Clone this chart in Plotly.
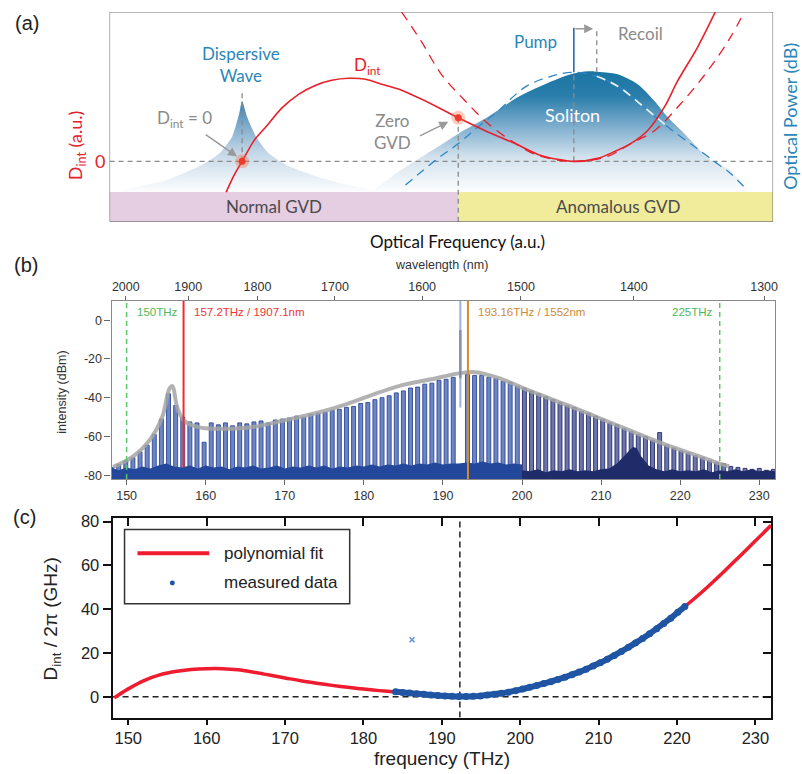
import plotly.graph_objects as go

W, H = 802, 774


def fx(px):
    return px / W


def fy(py):
    return 1 - py / H


# ---------------- Panel (a): schematic (arbitrary units) ----------------
a_dint_x = [17.57, 18.77, 19.97, 21.77, 23.57, 25.98, 28.53, 31.08, 33.48, 36.04, 38.59, 40.99,
            43.54, 48.5, 52.55, 56.61, 61.11, 65.02, 69.97, 73.57, 76.13, 78.53, 81.08, 83.63,
            85.59, 88.59, 91.29]
a_dint_y = [-3.1, -1.4, 0, 2.1, 3.5, 5.4, 6.8, 7.7, 8.2, 8.4, 8.3, 7.8,
            7.3, 5.8, 4.4, 3.1, 1.8, 0.6, 0, 0.3, 1.0, 1.8, 3.1, 5.5,
            8.1, 11.5, 15.1]
a_par_x = [44.0, 47.0, 50.0, 53.6, 57.06, 60.5, 64.56, 69.97, 75.08, 78.53, 82.13, 86.04, 90.09, 93.54, 95.65]
a_par_y = [15.1, 12.1, 8.8, 6.1, 3.8, 2.1, 0.6, 0, 0.5, 1.8, 3.1, 5.8, 9.1, 12.5, 15.1]
a_sech_x = [44.59, 49.1, 52.55, 55.56, 58.56, 62.61, 66.52, 69.97, 73.42, 76.58, 80.33, 84.08, 88.14, 91.14, 93.54, 95.8]
a_sech_y = [-2.4, 0.1, 1.8, 3.5, 5.1, 7.5, 8.6, 9.0, 8.6, 7.6, 5.6, 3.5, 1.5, 0, -1.2, -2.7]
a_sol_x = [39.34, 42.79, 45.5, 49.55, 52.55, 57.06, 61.56, 65.62, 69.52, 72.07, 74.32, 76.58, 79.58,
           82.13, 84.08, 86.64, 89.04, 90.84, 93.54, 96.1, 96.4]
a_sol_y = [-3.1, -1.4, -0.2, 1.5, 2.8, 4.5, 6.5, 7.8, 8.8, 9.1, 9.0, 8.8, 7.8,
           6.1, 4.5, 2.8, 1.1, 0, -0.9, -2.9, -3.1]
a_dw_x = [1.5, 3.45, 8.56, 13.51, 16.52, 18.47, 19.52, 19.97, 20.72, 22.07, 24.02, 27.03, 31.08, 36.04, 41.29]
a_dw_y = [-3.1, -2.7, -1.9, -0.5, 0.8, 2.5, 4.8, 6.1, 4.5, 2.5, 0.8, -0.5, -1.5, -2.4, -3.1]

A_XMIN, A_XMAX = 0, 100
A_YMIN, A_YMAX = -6.1, 15.1
band_top = -3.1
dw_x, dw_top = 19.97, 7.1
zgvd_x, zgvd_y = 52.55, 4.4
pump_x, pump_top, sol_peak = 69.97, 13.5, 9.0
recoil_x, recoil_top = 73.42, 13.2

# ---------------- Panel (b): spectrum ----------------
comb_freq = [148.1, 149.0, 149.9, 150.8, 151.7, 152.6, 153.5, 154.4, 155.3, 156.2, 157.1, 158.0, 158.9,
             159.8, 160.7, 161.6, 162.5, 163.4, 164.3, 165.2, 166.1, 167.0, 167.9, 168.8, 169.7, 170.6,
             171.5, 172.4, 173.3, 174.2, 175.1, 176.0, 176.9, 177.8, 178.7, 179.6, 180.5, 181.4, 182.3,
             183.2, 184.1, 185.0, 185.9, 186.8, 187.7, 188.6, 189.5, 190.4, 191.3, 193.1, 194.0, 194.9,
             195.8, 196.7, 197.6, 198.5, 199.4, 200.3, 201.2, 202.1, 203.0, 203.9, 204.8, 205.7, 206.6,
             207.5, 208.4, 209.3, 210.2, 211.1, 212.0, 212.9, 213.8, 214.7, 215.6, 216.5, 217.4, 218.3,
             219.2, 220.1, 221.0, 221.9, 222.8, 223.7, 224.6, 225.5, 226.4, 227.3, 228.2, 229.1, 230.0,
             230.9, 231.8]
comb_db = [-76, -74.5, -72.5, -71, -68, -64.5, -59, -51, -38, -44, -50, -52.5, -53,
           -63, -53, -54, -53, -54.5, -53, -53.5, -52.5, -52, -53, -51.5, -51, -50.5,
           -49.5, -50, -48.5, -48, -47.5, -46.5, -46, -45, -44.5, -43, -42.5, -41, -40,
           -39, -37.5, -36.5, -35, -34.5, -33, -32.5, -31, -30.5, -29.5, -28, -28.5, -28.5,
           -29.5, -30, -31.5, -32, -34, -35, -36.5, -38, -39.5, -41, -42.5, -44, -45,
           -47, -48, -49.5, -51, -53, -54, -56, -57.5, -59, -60, -62, -58, -64.5,
           -66, -67.5, -68.5, -70, -71, -72.5, -73.5, -74, -75.5, -76, -76.5, -77, -76.5,
           -77.5, -77]
floor_l_f = [148.1, 149, 150, 151, 152, 153, 154, 155, 156, 157, 158, 159, 160, 161, 162, 163, 164, 165,
             166, 167, 168, 169, 170, 171, 172, 173, 174, 175, 176, 177, 178, 179, 180, 181, 182, 183,
             184, 185, 186, 187, 188, 189, 190, 191, 192, 193, 194, 195, 196, 197, 198, 199, 200]
floor_l_db = [-76, -77.5, -76, -77, -75.5, -76.5, -75, -74, -75.5, -76, -75, -76.5, -75, -76, -75.5, -77,
              -75.5, -76, -75, -76.5, -76, -75, -76.5, -75.5, -76, -75, -76, -75, -76.5, -75.5, -76,
              -75, -75.5, -74.5, -75.5, -74.5, -75, -74, -75, -74, -74.5, -73.5, -74.5, -74, -74,
              -73.5, -74, -73, -74, -73.5, -74.5, -74, -74.5]
floor_r_f = [200, 201, 202, 203, 204, 205, 206, 207, 208, 209, 210, 211, 212, 213, 214, 214.5, 215, 216,
             217, 218, 219, 220, 221, 222, 223, 224, 225, 226, 227, 228, 229, 230, 231, 232]
floor_r_db = [-77.5, -78, -77, -78.5, -77.5, -78, -77, -78, -77.5, -78, -77, -76.5, -74, -70, -65.5, -66,
              -70, -75, -77, -78, -77, -78, -77.5, -78, -77, -78.5, -77.5, -78, -77, -78, -77, -78,
              -77.5, -78]
env_f = [148.3, 150.7, 152.9, 154.5, 155.4, 155.8, 156.4, 157.3, 159.2, 161.3, 165.5, 169.6, 175.9,
         184.4, 188.5, 192.2, 194.1, 197.0, 201.1, 205.4, 209.6, 213.7, 217.9, 222.1, 225.0, 226.2]
env_db = [-75.7, -70.7, -62, -50, -35.5, -34, -45, -52, -55.3, -56, -55.4, -52, -45.8,
          -34, -30.5, -27.3, -26.8, -29.8, -36.6, -43.3, -50.2, -57, -63.8, -69.8, -74, -75.5]
pump_f, pump_db, pump_spike_db = 192.2, 10, -5
dw_line_f, pump_ref_f = 157.2, 193.16
limit_f = [150, 225]
B_XMIN, B_XMAX, B_YMIN, B_YMAX = 148.1, 232.0, -82, 10
b_yticks = [0, -20, -40, -60, -80]
b_xticks = [150, 160, 170, 180, 190, 200, 210, 220, 230]
wl_ticks = [2000, 1900, 1800, 1700, 1600, 1500, 1400, 1300]
C_NM_THZ = 299792.458

# ---------------- Panel (c): integrated dispersion ----------------
fit_f = [148.2, 150, 152, 154, 156, 158, 160, 162, 164, 166, 168, 170, 172, 174, 176, 178, 180, 182,
         184, 186, 188, 190, 192, 194, 196, 198, 200, 202, 204, 206, 208, 210, 212, 214, 216, 218,
         220, 222, 224, 226, 228, 230, 232]
fit_g = [-0.5, 3.6, 7.4, 10.0, 11.5, 12.4, 12.8, 12.8, 12.3, 11.2, 9.9, 8.6, 7.3, 6.2, 5.2, 4.3, 3.5,
         2.8, 2.2, 1.6, 1.0, 0.5, 0.1, 0.2, 0.9, 1.9, 3.3, 5.0, 7.0, 9.3, 12.0, 15.2, 18.9, 23.0, 27.6,
         32.7, 38.3, 44.2, 50.5, 57.2, 64.2, 71.2, 78.3]
meas_f = [184.1, 185.0, 185.9, 186.8, 187.7, 188.6, 189.5, 190.4, 191.3, 192.2, 193.1, 194.0, 194.9,
          195.8, 196.7, 197.6, 198.5, 199.4, 200.3, 201.2, 202.1, 203.0, 203.9, 204.8, 205.7, 206.6,
          207.5, 208.4, 209.3, 210.2, 211.1, 212.0, 212.9, 213.8, 214.7, 215.6, 216.5, 217.4, 218.3,
          219.2, 220.1, 221.0]
meas_g = [2.3, 2.0, 1.7, 1.4, 1.1, 0.8, 0.6, 0.4, 0.2, 0.1, 0.1, 0.2, 0.4,
          0.8, 1.2, 1.6, 2.1, 2.8, 3.5, 4.3, 5.1, 6.0, 6.9, 7.9, 8.9, 10.1,
          11.3, 12.6, 14.1, 15.5, 17.1, 18.9, 20.7, 22.6, 24.6, 26.6, 28.8, 31.1, 33.5,
          35.9, 38.6, 41.2]
outlier_f, outlier_g = [186.2], [26.0]
zero_disp_f = 192.3
C_XMIN, C_XMAX, C_YMIN, C_YMAX = 148.0, 232.0, -9.5, 81.8
c_xticks = [150, 160, 170, 180, 190, 200, 210, 220, 230]
c_yticks = [0, 20, 40, 60, 80]

RED = '#e8202a'
GRAY = '#8a8a8a'
BLUE_A = '#2a86b8'
FA = 'Lato, Open Sans, sans-serif'
FB = 'Liberation Sans, Arial, sans-serif'

fig = go.Figure()

# ---- panel (a) traces ----
fig.add_trace(go.Scatter(x=a_dw_x, y=a_dw_y, mode='lines', xaxis='x', yaxis='y',
                         line=dict(width=0, shape='spline', smoothing=0.6), fill='toself',
                         fillgradient=dict(type='vertical', start=band_top, stop=max(a_dw_y),
                                           colorscale=[[0, 'rgba(255,255,255,1)'], [0.45, '#c4d7e7'],
                                                       [0.8, '#6fa2c7'], [1, '#3a81ae']]),
                         hoverinfo='skip'))
fig.add_trace(go.Scatter(x=a_sol_x, y=a_sol_y, mode='lines', xaxis='x', yaxis='y',
                         line=dict(width=0, shape='spline', smoothing=0.8), fill='toself',
                         fillgradient=dict(type='vertical', start=band_top, stop=max(a_sol_y),
                                           colorscale=[[0, 'rgba(255,255,255,1)'], [0.3, '#d3e2ed'],
                                                       [0.6, '#6ea4c8'], [0.8, '#2a7eab'],
                                                       [1, '#1b75a3']]),
                         hoverinfo='skip'))
# guides
dash_gray = dict(color=GRAY, width=1.3, dash='5px,4px')
fig.add_trace(go.Scatter(x=[A_XMIN, A_XMAX], y=[0, 0], mode='lines', line=dash_gray, xaxis='x', yaxis='y'))
fig.add_trace(go.Scatter(x=[dw_x, dw_x], y=[0, dw_top], mode='lines', line=dash_gray, xaxis='x', yaxis='y'))
fig.add_trace(go.Scatter(x=[zgvd_x, zgvd_x], y=[A_YMIN, zgvd_y], mode='lines', line=dash_gray, xaxis='x', yaxis='y'))
fig.add_trace(go.Scatter(x=[pump_x, pump_x], y=[0, sol_peak], mode='lines', line=dash_gray, xaxis='x', yaxis='y'))
fig.add_trace(go.Scatter(x=[recoil_x, recoil_x], y=[sol_peak, recoil_top], mode='lines', line=dash_gray,
                         xaxis='x', yaxis='y'))
# sech dashed
fig.add_trace(go.Scatter(x=a_sech_x, y=a_sech_y, mode='lines', xaxis='x', yaxis='y',
                         line=dict(color='#2f86c6', width=1.3, dash='9px,6px', shape='spline')))
fig.add_trace(go.Scatter(x=a_sech_x[8:12], y=a_sech_y[8:12], mode='lines', xaxis='x', yaxis='y',
                         line=dict(color='#e4eef5', width=1.8, dash='9px,6px', shape='spline')))
# D_int curves
fig.add_trace(go.Scatter(x=a_par_x, y=a_par_y, mode='lines', xaxis='x', yaxis='y',
                         line=dict(color=RED, width=1.3, dash='10px,7px', shape='spline')))
fig.add_trace(go.Scatter(x=a_dint_x, y=a_dint_y, mode='lines', xaxis='x', yaxis='y',
                         line=dict(color=RED, width=1.6, shape='spline', smoothing=0.8)))
# pump line
fig.add_trace(go.Scatter(x=[pump_x, pump_x], y=[sol_peak, pump_top], mode='lines', xaxis='x', yaxis='y',
                         line=dict(color='#1f5fa8', width=1.5)))
# glow dots
fig.add_trace(go.Scatter(x=[dw_x, zgvd_x], y=[0, zgvd_y], mode='markers', xaxis='x', yaxis='y',
                         marker=dict(size=14, color='rgba(245,110,70,0.35)', line=dict(width=0))))
fig.add_trace(go.Scatter(x=[dw_x, zgvd_x], y=[0, zgvd_y], mode='markers', xaxis='x', yaxis='y',
                         marker=dict(size=7, color='#ee3b2b', line=dict(width=0))))

# ---- panel (b) traces ----
cl = [(f, d) for f, d in zip(comb_freq, comb_db) if f < 200]
cr = [(f, d) for f, d in zip(comb_freq, comb_db) if f >= 200]
fig.add_trace(go.Bar(x=[f for f, _ in cl], y=[d - B_YMIN for _, d in cl], base=B_YMIN, width=0.5,
                     marker=dict(color='#6f84c2', line=dict(color='#2a4898', width=0.9)),
                     xaxis='x2', yaxis='y2'))
fig.add_trace(go.Bar(x=[f for f, _ in cr], y=[d - B_YMIN for _, d in cr], base=B_YMIN, width=0.5,
                     marker=dict(color='#6c74aa', line=dict(color='#222d6a', width=0.9)),
                     xaxis='x2', yaxis='y2'))
fig.add_trace(go.Scatter(x=floor_l_f + [floor_l_f[-1], floor_l_f[0]], y=floor_l_db + [B_YMIN, B_YMIN],
                         mode='lines', fill='toself', fillcolor='#23489b', line=dict(width=0),
                         xaxis='x2', yaxis='y2'))
fig.add_trace(go.Scatter(x=floor_r_f + [floor_r_f[-1], floor_r_f[0]], y=floor_r_db + [B_YMIN, B_YMIN],
                         mode='lines', fill='toself', fillcolor='#1f2c69', line=dict(width=0),
                         xaxis='x2', yaxis='y2'))
# pump with filtered notch
fig.add_trace(go.Bar(x=[pump_f], y=[-45 - B_YMIN], base=B_YMIN, width=0.5,
                     marker=dict(color='white', line=dict(width=0)), xaxis='x2', yaxis='y2'))
fig.add_trace(go.Scatter(x=[pump_f, pump_f], y=[-45, pump_db], mode='lines', xaxis='x2', yaxis='y2',
                         line=dict(color='#9cb0e0', width=2)))
fig.add_trace(go.Scatter(x=env_f, y=env_db, mode='lines', xaxis='x2', yaxis='y2',
                         line=dict(color='rgba(165,165,165,0.85)', width=4, shape='spline')))
fig.add_trace(go.Scatter(x=[pump_f, pump_f], y=[-30, pump_spike_db], mode='lines', xaxis='x2', yaxis='y2',
                         line=dict(color='rgba(130,140,165,0.9)', width=2.5)))
for f in limit_f:
    fig.add_trace(go.Scatter(x=[f, f], y=[B_YMIN, B_YMAX], mode='lines', xaxis='x2', yaxis='y2',
                             line=dict(color='#5cc46a', width=1.5, dash='5px,4px')))
fig.add_trace(go.Scatter(x=[dw_line_f, dw_line_f], y=[-76, B_YMAX], mode='lines', xaxis='x2', yaxis='y2',
                         line=dict(color='#ef2b2b', width=2)))
fig.add_trace(go.Scatter(x=[pump_ref_f, pump_ref_f], y=[B_YMIN, B_YMAX], mode='lines', xaxis='x2', yaxis='y2',
                         line=dict(color='#d58a2c', width=2)))
fig.add_trace(go.Scatter(x=[], y=[], xaxis='x3', yaxis='y2'))

# ---- panel (c) traces ----
fig.add_trace(go.Scatter(x=[C_XMIN, C_XMAX], y=[0, 0], mode='lines', xaxis='x4', yaxis='y4',
                         line=dict(color='#222', width=1.5, dash='6px,4px')))
fig.add_trace(go.Scatter(x=[zero_disp_f, zero_disp_f], y=[C_YMIN, C_YMAX], mode='lines', xaxis='x4', yaxis='y4',
                         line=dict(color='#222', width=1.5, dash='6px,4px')))
fig.add_trace(go.Scatter(x=fit_f, y=fit_g, mode='lines', xaxis='x4', yaxis='y4',
                         line=dict(color='#ee1c2e', width=3.5, shape='spline')))
fig.add_trace(go.Scatter(x=meas_f, y=meas_g, mode='lines', xaxis='x4', yaxis='y4',
                         line=dict(color='#1f55a3', width=6, shape='spline')))
fig.add_trace(go.Scatter(x=meas_f, y=meas_g, mode='markers', xaxis='x4', yaxis='y4',
                         marker=dict(color='#1f55a3', size=7, line=dict(width=0))))
fig.add_trace(go.Scatter(x=outlier_f, y=outlier_g, mode='markers', xaxis='x4', yaxis='y4',
                         marker=dict(color='#5d8fe6', size=5, symbol='x-thin', line=dict(width=1.5, color='#5d8fe6'))))
fig.add_trace(go.Scatter(x=[], y=[], xaxis='x5', yaxis='y4'))
fig.add_trace(go.Scatter(x=[], y=[], xaxis='x4', yaxis='y5'))

for t in fig.data:
    t.showlegend = False
    t.hoverinfo = 'skip'

# ---- axes ----
noax = dict(visible=False, showgrid=False, zeroline=False, fixedrange=True)
tick_font_b = dict(family=FB, size=12.5, color='#333')
tick_font_c = dict(family=FB, size=16.5, color='#222')
layout = dict(
    width=W, height=H, margin=dict(l=0, r=0, t=0, b=0),
    paper_bgcolor='white', plot_bgcolor='rgba(0,0,0,0)', showlegend=False, barmode='overlay',
    xaxis=dict(domain=[fx(110), fx(776)], range=[A_XMIN, A_XMAX], anchor='y', **noax),
    yaxis=dict(domain=[fy(219), fy(7)], range=[A_YMIN, A_YMAX], anchor='x', **noax),
    xaxis2=dict(domain=[fx(112), fx(778)], range=[B_XMIN, B_XMAX], anchor='y2', showgrid=False, zeroline=False,
                tickvals=b_xticks, ticks='outside', ticklen=5, tickcolor='#666', tickfont=tick_font_b,
                showline=True, linecolor='#8a8a8a', linewidth=1.2, mirror=True),
    yaxis2=dict(domain=[fy(479), fy(299)], range=[B_YMIN, B_YMAX], anchor='x2', showgrid=False, zeroline=False,
                tickvals=b_yticks, ticktext=[str(v) for v in b_yticks], ticks='outside', ticklen=6,
                tickcolor='#666', tickfont=tick_font_b, showline=True, linecolor='#8a8a8a', linewidth=1.2,
                mirror=True),
    xaxis3=dict(overlaying='x2', side='top', anchor='y2', range=[B_XMIN, B_XMAX], showgrid=False, zeroline=False,
                tickvals=[C_NM_THZ / w for w in wl_ticks], ticktext=[str(w) for w in wl_ticks],
                ticks='outside', ticklen=4, tickcolor='#666', tickfont=tick_font_b, showline=False),
    xaxis4=dict(domain=[fx(113), fx(774)], range=[C_XMIN, C_XMAX], anchor='y4', showgrid=False, zeroline=False,
                tickvals=c_xticks, ticks='outside', ticklen=5, tickwidth=2, tickcolor='#111',
                tickfont=tick_font_c, showline=True, linecolor='#111', linewidth=2, mirror=True),
    yaxis4=dict(domain=[fy(720), fy(518)], range=[C_YMIN, C_YMAX], anchor='x4', showgrid=False, zeroline=False,
                tickvals=c_yticks, ticks='outside', ticklen=8, tickwidth=2, tickcolor='#111',
                tickfont=tick_font_c, showline=True, linecolor='#111', linewidth=2, mirror=True),
    xaxis5=dict(overlaying='x4', side='top', anchor='y4', range=[C_XMIN, C_XMAX], showgrid=False, zeroline=False,
                tickvals=c_xticks, ticks='inside', ticklen=8, tickwidth=2, tickcolor='#111',
                showticklabels=False, showline=False),
    yaxis5=dict(overlaying='y4', side='right', anchor='x4', range=[C_YMIN, C_YMAX], showgrid=False, zeroline=False,
                tickvals=c_yticks, ticks='inside', ticklen=8, tickwidth=2, tickcolor='#111',
                showticklabels=False, showline=False),
)
fig.update_layout(**layout)

# ---- shapes ----
shapes = [
    dict(type='rect', xref='x', yref='y', x0=A_XMIN, x1=zgvd_x, y0=A_YMIN, y1=band_top,
         fillcolor='#e5cde2', line=dict(width=0), layer='below'),
    dict(type='rect', xref='x', yref='y', x0=zgvd_x, x1=A_XMAX, y0=A_YMIN, y1=band_top,
         fillcolor='#f1ec9c', line=dict(width=0), layer='below'),
    dict(type='rect', xref='x', yref='y', x0=A_XMIN, x1=A_XMAX, y0=A_YMIN, y1=A_YMAX,
         fillcolor='rgba(0,0,0,0)', line=dict(color='#555', width=1), layer='above'),
    # manual legend for (c)
    dict(type='rect', xref='paper', yref='paper', x0=fx(125), x1=fx(351), y0=fy(605), y1=fy(530),
         fillcolor='white', line=dict(color='#333', width=1.5), layer='above'),
    dict(type='line', xref='paper', yref='paper', x0=fx(138), x1=fx(210), y0=fy(554), y1=fy(554),
         line=dict(color='#ee1c2e', width=4), layer='above'),
    dict(type='circle', xref='paper', yref='paper', x0=fx(170.5), x1=fx(175.5), y0=fy(586.5), y1=fy(581.5),
         fillcolor='#1f55a3', line=dict(width=0), layer='above'),
]
fig.update_layout(shapes=shapes)

# ---- annotations ----
ann = []


def txt(text, x, y, size, color, family=FA, xref='x', yref='y', xanchor='center', yanchor='middle', angle=0):
    ann.append(dict(text=text, x=x, y=y, xref=xref, yref=yref, xanchor=xanchor, yanchor=yanchor,
                    showarrow=False, textangle=angle, font=dict(family=family, size=size, color=color)))


# panel (a)
txt('Dispersive<br>Wave', 19.82, 9.8, 17, BLUE_A)
txt('D<sub>int</sub>', 38.8, 9.6, 17, RED)
txt('D<sub>int</sub> = 0', 11.3, 4.3, 17, GRAY)
txt('Zero<br>GVD', 42.7, 3.0, 17, GRAY)
txt('Pump', 64.26, 12.1, 17, BLUE_A)
txt('Recoil', 80.03, 12.9, 17, GRAY)
txt('Soliton', 69.82, 4.7, 18, 'white')
txt('Normal GVD', 24.77, -4.6, 17, '#4a4a4a')
txt('Anomalous GVD', 76.73, -4.6, 17, '#4a4a4a')
txt('Optical Frequency (a.u.)', fx(459), fy(239), 17, '#111', xref='paper', yref='paper')
txt('D<sub>int</sub> (a.u.)', fx(77), fy(142), 18, RED, xref='paper', yref='paper', angle=-90)
txt('0', fx(107), fy(158), 18, RED, xref='paper', yref='paper', xanchor='right')
txt('Optical Power (dB)', fx(793), fy(113), 18, BLUE_A, xref='paper', yref='paper', angle=-90)
for a_to, a_from in [((19.22, 0.5), (14.26, 2.8)), ((51.05, 4.0), (46.55, 2.5)),
                     ((72.9, 13.4), (pump_x, 13.4))]:
    ann.append(dict(x=a_to[0], y=a_to[1], ax=a_from[0], ay=a_from[1], xref='x', yref='y', axref='x', ayref='y',
                    text='', showarrow=True, arrowhead=2, arrowsize=1.3, arrowwidth=1.4, arrowcolor='#999'))
# panel labels
txt('(a)', fx(27), fy(18), 20, '#222', family=FB, xref='paper', yref='paper')
txt('(b)', fx(26), fy(263), 20, '#222', family=FB, xref='paper', yref='paper')
txt('(c)', fx(25), fy(517), 20, '#222', family=FB, xref='paper', yref='paper')
# panel (b)
txt('wavelength (nm)', fx(443), fy(263), 12.5, '#333', family=FB, xref='paper', yref='paper')
txt('intensity (dBm)', fx(62), fy(391), 12.5, '#333', family=FB, xref='paper', yref='paper', angle=-90)
txt('150THz', 151.0, 4.2, 11.5, '#4cb85a', family=FB, xref='x2', yref='y2', xanchor='left')
txt('157.2THz / 1907.1nm', 158.3, 4.2, 11.5, '#ef3535', family=FB, xref='x2', yref='y2', xanchor='left')
txt('193.16THz / 1552nm', 194.2, 4.2, 11.5, '#d08a36', family=FB, xref='x2', yref='y2', xanchor='left')
txt('225THz', 224.4, 4.2, 11.5, '#4cb85a', family=FB, xref='x2', yref='y2', xanchor='right')
# panel (c)
txt('frequency (THz)', fx(444), fy(761), 19, '#222', family=FB, xref='paper', yref='paper')
txt('D<sub>int</sub> / 2π (GHz)', fx(52), fy(620), 19, '#222', family=FB, xref='paper', yref='paper', angle=-90)
txt('polynomial fit', fx(223), fy(554), 17, '#222', family=FB, xref='paper', yref='paper', xanchor='left')
txt('measured data', fx(223), fy(584), 17, '#222', family=FB, xref='paper', yref='paper', xanchor='left')
fig.update_layout(annotations=ann)

fig.write_html('out.html')
